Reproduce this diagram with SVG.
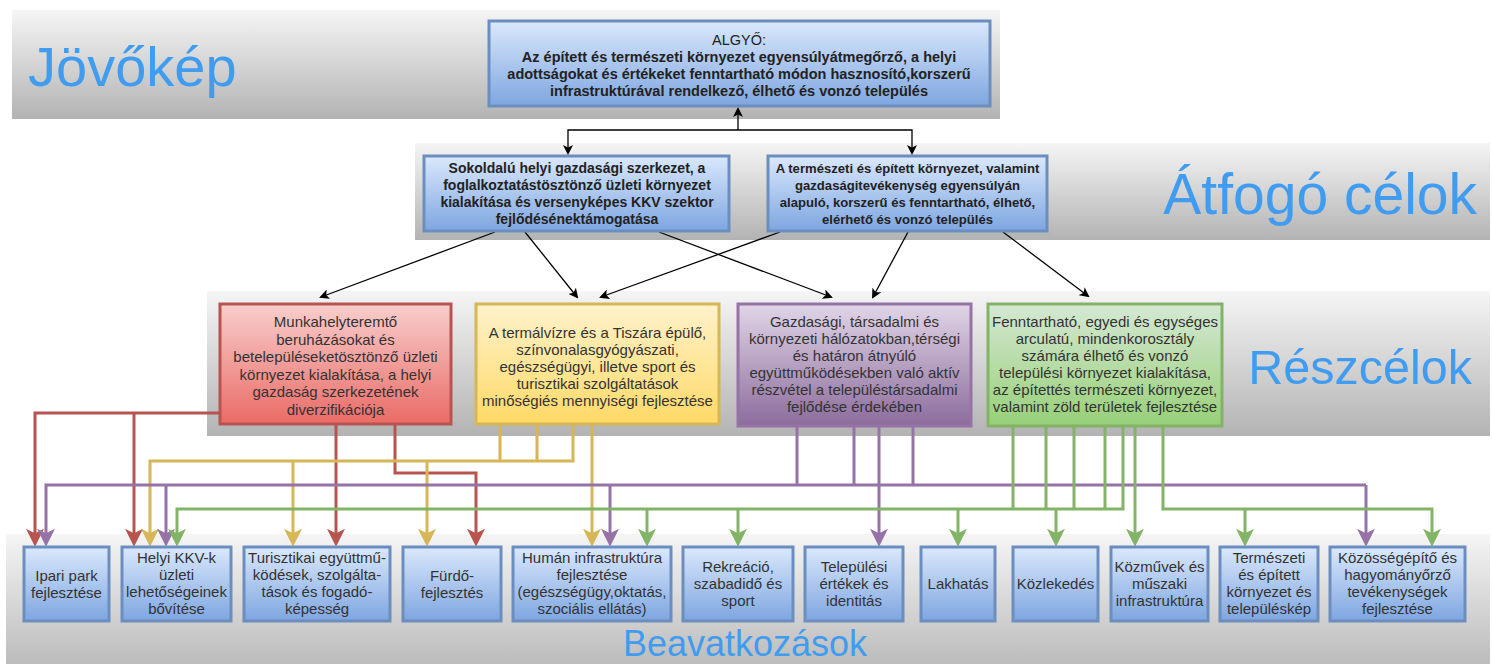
<svg xmlns="http://www.w3.org/2000/svg" width="1492" height="664" viewBox="0 0 1492 664">
<defs>
<style>
.band{fill:url(#gGray)}
.title{font-family:"Liberation Sans",Arial,sans-serif;fill:#3f9cf0}
.t{font-family:"Liberation Sans",Arial,sans-serif;font-size:15px;fill:#333;text-anchor:middle}
.tb{font-family:"Liberation Sans",Arial,sans-serif;font-size:14px;fill:#222;text-anchor:middle;font-weight:bold}
.blue{fill:url(#gBlue);stroke:#6c8ebf;stroke-width:3}
.red{fill:url(#gRed);stroke:#b85450;stroke-width:3}
.yel{fill:url(#gYel);stroke:#d6b656;stroke-width:3}
.pur{fill:url(#gPur);stroke:#9673a6;stroke-width:3}
.grn{fill:url(#gGrn);stroke:#82b366;stroke-width:3}
.cr{fill:none;stroke:#b85450;stroke-width:3;marker-end:url(#aR)}
.cy{fill:none;stroke:#d6b656;stroke-width:3;marker-end:url(#aY)}
.cp{fill:none;stroke:#9673a6;stroke-width:3;marker-end:url(#aP)}
.cg{fill:none;stroke:#82b366;stroke-width:3;marker-end:url(#aG)}
.crn{fill:none;stroke:#b85450;stroke-width:3}
.cyn{fill:none;stroke:#d6b656;stroke-width:3}
.cpn{fill:none;stroke:#9673a6;stroke-width:3}
.cgn{fill:none;stroke:#82b366;stroke-width:3}
.ck{fill:none;stroke:#000;stroke-width:1.3;marker-end:url(#aK)}
</style>
<linearGradient id="gGray" x1="0" y1="0" x2="0" y2="1"><stop offset="0" stop-color="#f5f5f5"/><stop offset="1" stop-color="#b3b3b3"/></linearGradient>
<linearGradient id="gBlue" x1="0" y1="0" x2="0" y2="1"><stop offset="0" stop-color="#dae8fc"/><stop offset="1" stop-color="#7ea6e0"/></linearGradient>
<linearGradient id="gRed" x1="0" y1="0" x2="0" y2="1"><stop offset="0" stop-color="#f8cecc"/><stop offset="1" stop-color="#ea6b66"/></linearGradient>
<linearGradient id="gYel" x1="0" y1="0" x2="0" y2="1"><stop offset="0" stop-color="#fff2cc"/><stop offset="1" stop-color="#ffd966"/></linearGradient>
<linearGradient id="gPur" x1="0" y1="0" x2="0" y2="1"><stop offset="0" stop-color="#e1d5e7"/><stop offset="1" stop-color="#8c6c9c"/></linearGradient>
<linearGradient id="gGrn" x1="0" y1="0" x2="0" y2="1"><stop offset="0" stop-color="#d5e8d4"/><stop offset="1" stop-color="#97d077"/></linearGradient>
<marker id="aR" markerUnits="userSpaceOnUse" markerWidth="18" markerHeight="18" viewBox="0 0 16 16" refX="10" refY="8" orient="auto"><path d="M0,0 L16,8 L0,16 L4,8 Z" fill="#b85450"/></marker>
<marker id="aY" markerUnits="userSpaceOnUse" markerWidth="18" markerHeight="18" viewBox="0 0 16 16" refX="10" refY="8" orient="auto"><path d="M0,0 L16,8 L0,16 L4,8 Z" fill="#d6b656"/></marker>
<marker id="aP" markerUnits="userSpaceOnUse" markerWidth="18" markerHeight="18" viewBox="0 0 16 16" refX="10" refY="8" orient="auto"><path d="M0,0 L16,8 L0,16 L4,8 Z" fill="#9673a6"/></marker>
<marker id="aG" markerUnits="userSpaceOnUse" markerWidth="18" markerHeight="18" viewBox="0 0 16 16" refX="10" refY="8" orient="auto"><path d="M0,0 L16,8 L0,16 L4,8 Z" fill="#82b366"/></marker>
<marker id="aK" markerUnits="userSpaceOnUse" markerWidth="10" markerHeight="10" viewBox="0 0 10 10" refX="8" refY="5" orient="auto"><path d="M0,0 L10,5 L0,10 L2.5,5 Z" fill="#000"/></marker>
</defs>

<g id="bands">
<rect class="band" x="12" y="10" width="988" height="109"/>
<rect class="band" x="415" y="143" width="1075" height="97"/>
<rect class="band" x="207" y="291" width="1283" height="145"/>
<rect class="band" x="6" y="534" width="1484" height="150"/>
<text class="title" x="28" y="86" font-size="56">Jövőkép</text>
<text class="title" x="1477" y="214" font-size="57" text-anchor="end">Átfogó célok</text>
<text class="title" x="1472" y="384" font-size="48.5" text-anchor="end">Részcélok</text>
<text class="title" x="745" y="656" font-size="36" text-anchor="middle">Beavatkozások</text>
</g>

<g id="connectors">
<path class="ck" d="M738,130 V109"/>
<path class="ck" d="M738,130 H568 V153"/>
<path class="ck" d="M738,130 H912 V153"/>
<path class="ck" d="M495,232 L321,297"/>
<path class="ck" d="M525,232 L577,297"/>
<path class="ck" d="M659,232 L831,297"/>
<path class="ck" d="M780,232 L601,297"/>
<path class="ck" d="M908,232 L873,297"/>
<path class="ck" d="M1003,232 L1088,296"/>

<path class="cr" d="M219,413 H35 V540"/>
<path class="cr" d="M134,413 V540"/>
<path class="cr" d="M336,425 V540"/>
<path class="cr" d="M395,425 V473 H476 V540"/>

<path class="cy" d="M573,425 V461 H150 V540"/>
<path class="cyn" d="M500,425 V461 M537,425 V461"/>
<path class="cy" d="M293,461 V540"/>
<path class="cy" d="M427,461 V540"/>
<path class="cy" d="M592,425 V540"/>

<path class="cpn" d="M797,427 V485 M854,427 V485 M913,427 V485"/>
<path class="cp" d="M1366,485 H46 V540"/>
<path class="cp" d="M1366,485 V540"/>
<path class="cp" d="M166,485 V540"/>
<path class="cp" d="M610,485 V540"/>
<path class="cp" d="M879,427 V540"/>

<path class="cgn" d="M1013,427 V509 M1046,427 V509 M1074,427 V509 M1105,427 V509"/>
<path class="cg" d="M1123,427 V509 H177 V540"/>
<path class="cg" d="M647,509 V540"/>
<path class="cg" d="M738,509 V540"/>
<path class="cg" d="M958,509 V540"/>
<path class="cg" d="M1056,509 V540"/>
<path class="cg" d="M1135,427 V540"/>
<path class="cg" d="M1163,427 V509 H1432 V540"/>
<path class="cg" d="M1245,509 V540"/>
</g>

<g id="vision">
<rect class="blue" x="489" y="21" width="501" height="85"/>
<text class="tb" x="739" y="45" style="font-weight:normal;font-size:14.5px">ALGYŐ:</text>
<text class="tb" x="739" y="62" style="font-size:14.5px">Az épített és természeti környezet egyensúlyátmegőrző, a helyi</text>
<text class="tb" x="739" y="79" style="font-size:14.5px">adottságokat és értékeket fenntartható módon hasznosító,korszerű</text>
<text class="tb" x="739" y="96" style="font-size:14.5px">infrastruktúrával rendelkező, élhető és vonzó település</text>
</g>

<g id="goalA">
<rect class="blue" x="424" y="156" width="305" height="75"/>
<text class="tb" x="577" y="173">Sokoldalú helyi gazdasági szerkezet, a</text>
<text class="tb" x="577" y="190">foglalkoztatástösztönző üzleti környezet</text>
<text class="tb" x="577" y="207">kialakítása és versenyképes KKV szektor</text>
<text class="tb" x="577" y="224">fejlődésénektámogatása</text>
</g>

<g id="goalB">
<rect class="blue" x="768" y="156" width="279" height="75"/>
<text class="tb" x="907.5" y="173" style="font-size:13.1px">A természeti és épített környezet, valamint</text>
<text class="tb" x="907.5" y="190" style="font-size:13.1px">gazdaságitevékenység egyensúlyán</text>
<text class="tb" x="907.5" y="207" style="font-size:13.1px">alapuló, korszerű és fenntartható, élhető,</text>
<text class="tb" x="907.5" y="224" style="font-size:13.1px">elérhető és vonzó település</text>
</g>

<g id="sub-red">
<rect class="red" x="220" y="304" width="231" height="120"/>
<text class="t" x="335.5" y="327">Munkahelyteremtő</text>
<text class="t" x="335.5" y="344.5">beruházásokat és</text>
<text class="t" x="335.5" y="362">betelepüléseketösztönző üzleti</text>
<text class="t" x="335.5" y="379.5">környezet kialakítása, a helyi</text>
<text class="t" x="335.5" y="397">gazdaság szerkezetének</text>
<text class="t" x="335.5" y="414.5">diverzifikációja</text>
</g>

<g id="sub-yellow">
<rect class="yel" x="476" y="304" width="243" height="120"/>
<text class="t" x="597.5" y="338">A termálvízre és a Tiszára épülő,</text>
<text class="t" x="597.5" y="355">színvonalasgyógyászati,</text>
<text class="t" x="597.5" y="372">egészségügyi, illetve sport és</text>
<text class="t" x="597.5" y="389">turisztikai szolgáltatások</text>
<text class="t" x="597.5" y="406">minőségiés mennyiségi fejlesztése</text>
</g>

<g id="sub-purple">
<rect class="pur" x="738" y="304" width="233" height="122"/>
<text class="t" x="854.5" y="327">Gazdasági, társadalmi és</text>
<text class="t" x="854.5" y="344">környezeti hálózatokban,térségi</text>
<text class="t" x="854.5" y="361">és határon átnyúló</text>
<text class="t" x="854.5" y="378">együttműködésekben való aktív</text>
<text class="t" x="854.5" y="395">részvétel a településtársadalmi</text>
<text class="t" x="854.5" y="412">fejlődése érdekében</text>
</g>

<g id="sub-green">
<rect class="grn" x="988" y="304" width="234" height="122"/>
<text class="t" x="1105" y="327">Fenntartható, egyedi és egységes</text>
<text class="t" x="1105" y="344">arculatú, mindenkorosztály</text>
<text class="t" x="1105" y="361">számára élhető és vonzó</text>
<text class="t" x="1105" y="378">települési környezet kialakítása,</text>
<text class="t" x="1105" y="395">az építettés természeti környezet,</text>
<text class="t" x="1105" y="412">valamint zöld területek fejlesztése</text>
</g>

<g id="b1"><rect class="blue" x="24" y="547" width="85" height="74"/>
<text class="t" x="66.5" y="581">Ipari park</text><text class="t" x="66.5" y="598">fejlesztése</text></g>

<g id="b2"><rect class="blue" x="122" y="547" width="109" height="74"/>
<text class="t" x="176.5" y="563">Helyi KKV-k</text><text class="t" x="176.5" y="580">üzleti</text><text class="t" x="176.5" y="597">lehetőségeinek</text><text class="t" x="176.5" y="614">bővítése</text></g>

<g id="b3"><rect class="blue" x="244" y="547" width="146" height="74"/>
<text class="t" x="317" y="563">Turisztikai együttmű-</text><text class="t" x="317" y="580">ködések, szolgálta-</text><text class="t" x="317" y="597">tások és fogadó-</text><text class="t" x="317" y="614">képesség</text></g>

<g id="b4"><rect class="blue" x="403" y="547" width="98" height="74"/>
<text class="t" x="452" y="581">Fürdő-</text><text class="t" x="452" y="598">fejlesztés</text></g>

<g id="b5"><rect class="blue" x="513" y="547" width="158" height="74"/>
<text class="t" x="592" y="563">Humán infrastruktúra</text><text class="t" x="592" y="580">fejlesztése</text><text class="t" x="592" y="597">(egészségügy,oktatás,</text><text class="t" x="592" y="614">szociális ellátás)</text></g>

<g id="b6"><rect class="blue" x="683" y="547" width="110" height="74"/>
<text class="t" x="738" y="572">Rekreáció,</text><text class="t" x="738" y="589">szabadidő és</text><text class="t" x="738" y="606">sport</text></g>

<g id="b7"><rect class="blue" x="805" y="547" width="98" height="74"/>
<text class="t" x="854" y="572">Települési</text><text class="t" x="854" y="589">értékek és</text><text class="t" x="854" y="606">identitás</text></g>

<g id="b8"><rect class="blue" x="921" y="547" width="74" height="74"/>
<text class="t" x="958" y="589">Lakhatás</text></g>

<g id="b9"><rect class="blue" x="1013" y="547" width="85" height="74"/>
<text class="t" x="1055.5" y="589">Közlekedés</text></g>

<g id="b10"><rect class="blue" x="1111" y="547" width="97" height="74"/>
<text class="t" x="1159.5" y="572">Közművek és</text><text class="t" x="1159.5" y="589">műszaki</text><text class="t" x="1159.5" y="606">infrastruktúra</text></g>

<g id="b11"><rect class="blue" x="1220" y="547" width="98" height="74"/>
<text class="t" x="1269" y="563">Természeti</text><text class="t" x="1269" y="580">és épített</text><text class="t" x="1269" y="597">környezet és</text><text class="t" x="1269" y="614">településkép</text></g>

<g id="b12"><rect class="blue" x="1330" y="547" width="135" height="74"/>
<text class="t" x="1397.5" y="563">Közösségépítő és</text><text class="t" x="1397.5" y="580">hagyományőrző</text><text class="t" x="1397.5" y="597">tevékenységek</text><text class="t" x="1397.5" y="614">fejlesztése</text></g>
</svg>
